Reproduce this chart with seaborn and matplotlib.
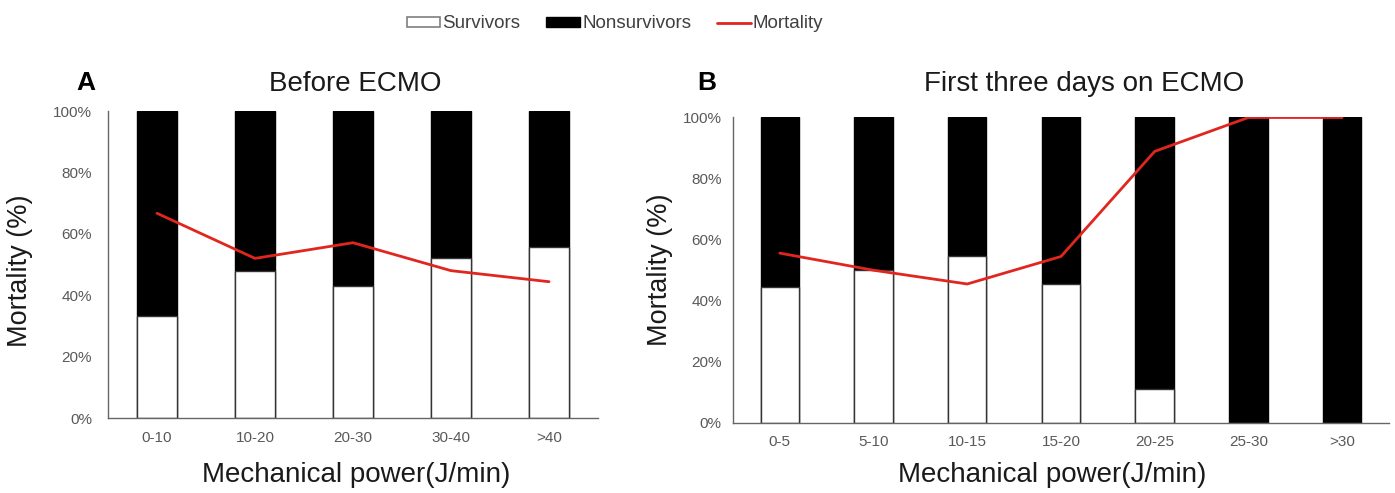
import numpy as np
import pandas as pd
import matplotlib
matplotlib.use('Agg')
import matplotlib.pyplot as plt
import seaborn as sns
from matplotlib.patches import Patch
from matplotlib.lines import Line2D

# Datos (porcentajes)
cats_a = ['0-10', '10-20', '20-30', '30-40', '>40']
surv_a = [33.3, 48.0, 42.9, 52.0, 55.6]
mort_a = [66.7, 52.0, 57.1, 48.0, 44.4]

cats_b = ['0-5', '5-10', '10-15', '15-20', '20-25', '25-30', '>30']
surv_b = [44.4, 50.0, 54.5, 45.5, 11.1, 0.0, 0.0]
mort_b = [55.6, 50.0, 45.5, 54.5, 88.9, 100.0, 100.0]

yticks = [0, 20, 40, 60, 80, 100]
title_a = 'Before ECMO'
title_b = 'First three days on ECMO'

sns.set_style('white')
plt.rcParams['font.family'] = ['Liberation Sans', 'DejaVu Sans']

RED = '#e0261f'
TICK_C = '#595959'


def draw_panel(ax, cats, surv, mort, ypad):
    df = pd.DataFrame({'cat': cats, 'surv': surv, 'mort': mort})
    df['total'] = df['surv'] + df['mort']
    # barra completa (nonsurvivors) y encima la parte de survivors
    sns.barplot(data=df, x='cat', y='total', color='black', width=0.41,
                edgecolor='black', linewidth=1, saturation=1, ax=ax)
    sns.barplot(data=df, x='cat', y='surv', color='white', width=0.41,
                edgecolor='#333333', linewidth=1, saturation=1, ax=ax)
    sns.lineplot(data=df, x='cat', y='mort', color=RED, linewidth=2,
                 sort=False, ax=ax)
    ax.set_xlim(-0.5, len(cats) - 0.5)
    ax.set_ylim(0, 100)
    ax.set_yticks(yticks)
    ax.set_yticklabels([f'{v}%' for v in yticks])
    ax.tick_params(axis='both', length=0, labelsize=11, labelcolor=TICK_C)
    ax.tick_params(axis='y', pad=ypad)
    ax.tick_params(axis='x', pad=9)
    for s in ['top', 'right']:
        ax.spines[s].set_visible(False)
    for s in ['left', 'bottom']:
        ax.spines[s].set_color('#666666')
        ax.spines[s].set_linewidth(1)
    ax.set_xlabel('Mechanical power(J/min)', fontsize=20, color='#1a1a1a')
    ax.set_ylabel('Mortality (%)', fontsize=19.5, color='#1a1a1a')


fig = plt.figure(figsize=(13.95, 4.93), dpi=100)
ax_a = fig.add_axes([0.0774, 0.1521, 0.3513, 0.6227])
ax_b = fig.add_axes([0.5254, 0.1420, 0.4703, 0.6197])

draw_panel(ax_a, cats_a, surv_a, mort_a, 11.5)
draw_panel(ax_b, cats_b, surv_b, mort_b, 8)

ax_a.xaxis.set_label_coords(0.506, -0.143)
ax_b.xaxis.set_label_coords(0.486, -0.128)
ax_a.yaxis.set_label_coords(-0.153, 0.48)
ax_b.yaxis.set_label_coords(-0.0915, 0.50)

# titulos y letras de panel
fig.text(355 / 1395, (493 - 91) / 493, title_a, ha='center', va='baseline',
         fontsize=20, color='#1a1a1a')
fig.text(1084 / 1395, (493 - 91) / 493, title_b, ha='center', va='baseline',
         fontsize=20, color='#1a1a1a')
fig.text(86 / 1395, (493 - 90) / 493, 'A', ha='center', va='baseline',
         fontsize=19, fontweight='bold', color='black')
fig.text(707 / 1395, (493 - 90) / 493, 'B', ha='center', va='baseline',
         fontsize=19, fontweight='bold', color='black')

handles = [
    Patch(facecolor='white', edgecolor='#7f7f7f', linewidth=1.2, label='Survivors'),
    Patch(facecolor='black', edgecolor='black', label='Nonsurvivors'),
    Line2D([0], [0], color=RED, linewidth=2, label='Mortality'),
]
fig.legend(handles=handles, loc='center', bbox_to_anchor=(615 / 1395, (493 - 24) / 493),
           ncol=3, frameon=False, fontsize=13.5, handlelength=1.8, handleheight=0.4,
           handletextpad=0.1, columnspacing=1.4, labelcolor='#404040')

fig.savefig('out.png', dpi=100)
